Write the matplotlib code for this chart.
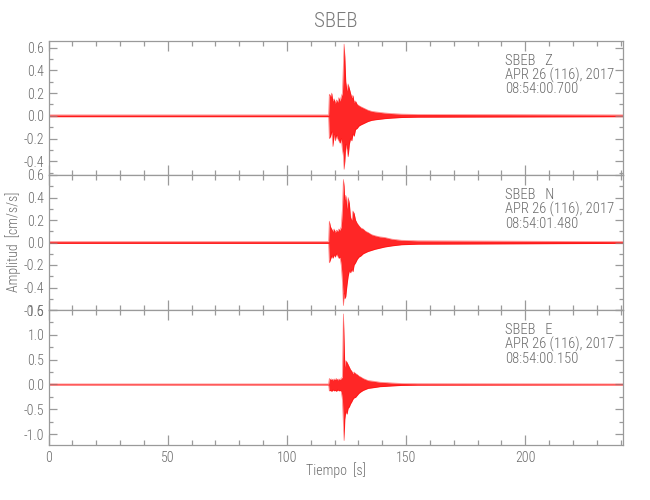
import matplotlib
matplotlib.use("Agg")
import matplotlib.pyplot as plt
from matplotlib.ticker import MultipleLocator, FormatStrFormatter
from matplotlib import font_manager

# ---------------- data (envelope of each trace) ----------------
times = [0, 117.5, 117.8, 118.3, 118.8, 119.3, 119.8, 120.3, 120.8, 121.3, 121.8,
         122.3, 122.8, 123.3, 123.7, 124.0, 124.3, 124.7, 125.2, 125.7, 126.2,
         126.7, 127.2, 127.7, 128.2, 128.8, 129.5, 130.2, 131.0, 132.0, 133.0,
         134.0, 135.5, 137.0, 139.0, 141.0, 144.0, 148.0, 155.0, 241.0]

z_upper = [0.008, 0.008, 0.19, 0.17, 0.20, 0.13, 0.15, 0.11, 0.14, 0.12, 0.16,
           0.13, 0.17, 0.20, 0.45, 0.63, 0.52, 0.30, 0.22, 0.28, 0.24,
           0.20, 0.16, 0.18, 0.12, 0.13, 0.10, 0.09, 0.08, 0.07, 0.06,
           0.05, 0.04, 0.035, 0.03, 0.025, 0.02, 0.015, 0.012, 0.008]
z_lower = [-0.008, -0.008, -0.20, -0.18, -0.14, -0.27, -0.16, -0.22, -0.17, -0.20, -0.22,
           -0.24, -0.20, -0.30, -0.35, -0.47, -0.40, -0.25, -0.30, -0.36, -0.25,
           -0.20, -0.22, -0.16, -0.18, -0.12, -0.11, -0.09, -0.08, -0.07, -0.06,
           -0.05, -0.04, -0.035, -0.03, -0.025, -0.02, -0.015, -0.012, -0.008]

n_upper = [0.008, 0.008, 0.19, 0.14, 0.12, 0.10, 0.12, 0.09, 0.11, 0.10, 0.12,
           0.11, 0.14, 0.30, 0.56, 0.50, 0.38, 0.42, 0.30, 0.40, 0.35,
           0.22, 0.20, 0.28, 0.26, 0.20, 0.17, 0.15, 0.13, 0.12, 0.10,
           0.09, 0.07, 0.06, 0.05, 0.045, 0.03, 0.02, 0.015, 0.008]
n_lower = [-0.008, -0.008, -0.18, -0.15, -0.12, -0.14, -0.11, -0.13, -0.10, -0.12, -0.14,
           -0.13, -0.20, -0.35, -0.56, -0.45, -0.50, -0.48, -0.38, -0.30, -0.25,
           -0.27, -0.24, -0.26, -0.20, -0.18, -0.15, -0.13, -0.12, -0.10, -0.09,
           -0.08, -0.07, -0.06, -0.05, -0.04, -0.03, -0.02, -0.015, -0.008]

e_upper = [0.01, 0.01, 0.12, 0.10, 0.11, 0.09, 0.11, 0.10, 0.12, 0.09, 0.11,
           0.10, 0.12, 0.15, 1.42, 0.90, 0.35, 0.48, 0.45, 0.40, 0.35,
           0.30, 0.27, 0.22, 0.25, 0.22, 0.20, 0.17, 0.15, 0.12, 0.10,
           0.08, 0.07, 0.06, 0.045, 0.04, 0.03, 0.02, 0.015, 0.01]
e_lower = [-0.01, -0.01, -0.13, -0.12, -0.14, -0.11, -0.13, -0.12, -0.14, -0.11, -0.13,
           -0.12, -0.14, -0.30, -0.80, -1.13, -0.70, -0.55, -0.60, -0.48, -0.45,
           -0.39, -0.35, -0.30, -0.27, -0.26, -0.22, -0.18, -0.15, -0.12, -0.10,
           -0.08, -0.07, -0.06, -0.045, -0.04, -0.03, -0.02, -0.015, -0.01]

components = ["Z", "N", "E"]
start_times = ["08:54:00.700", "08:54:01.480", "08:54:00.150"]
y_limits = [(-0.52, 0.66), (-0.6, 0.6), (-1.22, 1.5)]
y_major = [0.2, 0.2, 0.5]
y_minor = [0.1, 0.1, 0.25]
x_ticks_major = 50
x_ticks_minor = 10
x_limits = (0, 241)
station = "SBEB"
date_label = "APR 26 (116), 2017"
ylabel = "Amplitud  [cm/s/s]"
xlabel = "Tiempo  [s]"

uppers = [z_upper, n_upper, e_upper]
lowers = [z_lower, n_lower, e_lower]

# ---------------- style ----------------
names = {f.name for f in font_manager.fontManager.ttflist}
fam = "DejaVu Sans"
for cand in ["Liberation Sans Narrow", "Roboto Condensed", "DejaVu Sans Condensed", "Roboto"]:
    if cand in names:
        fam = cand
        break
plt.rcParams["font.family"] = [fam, "DejaVu Sans"]
plt.rcParams["font.weight"] = "light"

txt_col = "#6a6a6a"
spine_col = "#9a9a9a"
trace_col = "#ff0000"

fig = plt.figure(figsize=(6.5, 5.0), dpi=100)
W, H = 650.0, 500.0
left_px, right_px = 48.5, 623.0
panel_px = [(40.7, 175.0), (175.0, 310.0), (310.0, 445.0)]

axes = []
for i, (top, bot) in enumerate(panel_px):
    ax = fig.add_axes([left_px / W, 1 - bot / H, (right_px - left_px) / W, (bot - top) / H])
    axes.append(ax)
    ax.fill_between(times, lowers[i], uppers[i], color=trace_col, alpha=0.85, lw=0)
    ax.plot(times, uppers[i], color=trace_col, lw=0.5, alpha=0.5)
    ax.plot(times, lowers[i], color=trace_col, lw=0.5, alpha=0.5)
    ax.set_xlim(*x_limits)
    ax.set_ylim(*y_limits[i])
    ax.xaxis.set_major_locator(MultipleLocator(x_ticks_major))
    ax.xaxis.set_minor_locator(MultipleLocator(x_ticks_minor))
    ax.yaxis.set_major_locator(MultipleLocator(y_major[i]))
    ax.yaxis.set_minor_locator(MultipleLocator(y_minor[i]))
    ax.yaxis.set_major_formatter(FormatStrFormatter("%.1f"))
    for s in ax.spines.values():
        s.set_color(spine_col)
        s.set_linewidth(0.9)
    ax.tick_params(axis="x", which="major", direction="in", length=7.5, width=0.9,
                   color=spine_col, top=True, bottom=True, labelsize=10, labelcolor=txt_col, pad=4)
    ax.tick_params(axis="x", which="minor", direction="in", length=3.8, width=0.9,
                   color=spine_col, top=True, bottom=True)
    ax.tick_params(axis="y", which="major", direction="in", length=6, width=0.9,
                   color=spine_col, left=True, right=True, labelsize=10, labelcolor=txt_col, pad=3)
    ax.tick_params(axis="y", which="minor", direction="in", length=3, width=0.9,
                   color=spine_col, left=True, right=True)
    if i < 2:
        ax.tick_params(axis="x", labelbottom=False)
    ax.text(0.795, 0.85, f"{station}   {components[i]}", transform=ax.transAxes,
            color=txt_col, fontsize=10.5, va="center", ha="left")
    ax.text(0.795, 0.745, date_label, transform=ax.transAxes,
            color=txt_col, fontsize=10.5, va="center", ha="left")
    ax.text(0.795, 0.64, start_times[i], transform=ax.transAxes,
            color=txt_col, fontsize=10.5, va="center", ha="left")

fig.text((left_px + right_px) / 2 / W, 1 - 21.5 / H, station, ha="center", va="center",
         fontsize=15, color="#7a7a7a")
fig.text(13 / W, 1 - 242 / H, ylabel, rotation=90, ha="center", va="center",
         fontsize=10, color=txt_col)
fig.text((left_px + right_px) / 2 / W, 1 - 470 / H, xlabel, ha="center", va="center",
         fontsize=10, color=txt_col)

fig.savefig("out.png", dpi=100)
